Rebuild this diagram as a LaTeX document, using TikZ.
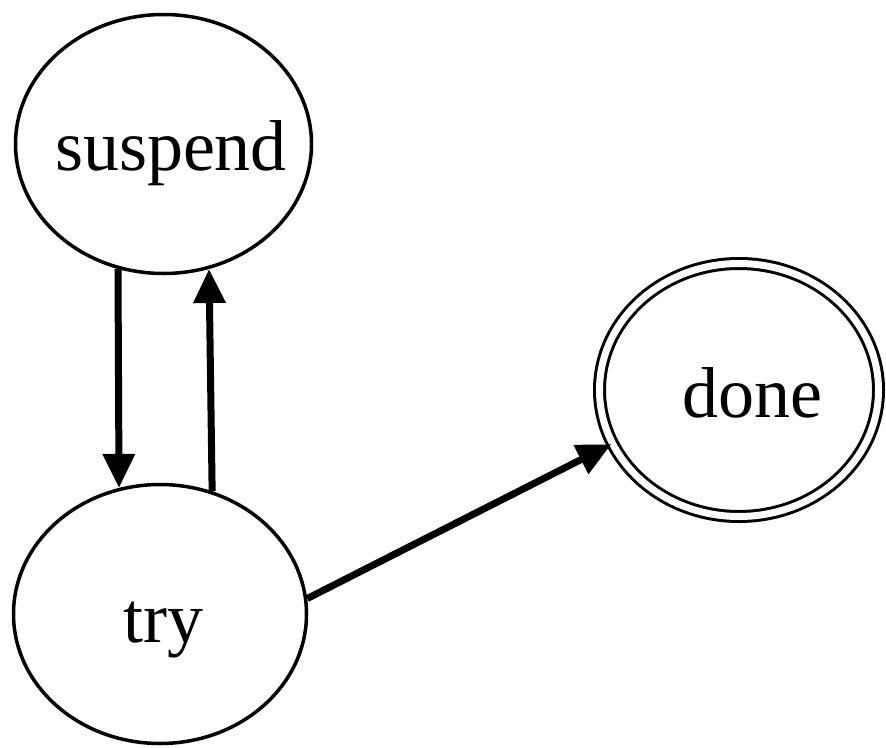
\documentclass[tikz,border=0pt]{standalone}
\usepackage{fontspec}
\setmainfont{Liberation Serif}
\usetikzlibrary{arrows.meta,shapes.geometric}
\begin{document}
\begin{tikzpicture}[x=1pt,y=-1pt,
  state/.style={draw, ellipse, line width=3.5pt, inner sep=0pt},
  accepting/.style={state, line width=3pt, double, double distance=7pt},
  lbl/.style={anchor=base, inner sep=0pt, font=\fontsize{72}{80}\selectfont},
  arr/.style={line width=7pt, -{Triangle[length=34pt,width=31pt]}}]
  \useasboundingbox (0,0) rectangle (886,747);
  % states
  \node[state, minimum width=296pt, minimum height=259pt] (suspend) at (163.5,144) {};
  \node[state, minimum width=293pt, minimum height=259pt] (try) at (160,614) {};
  \node[accepting, minimum width=279pt, minimum height=253pt] (done) at (739,390) {};
  % state names
  \node[lbl] (suspendname) at (171,170) {suspend};
  \node[lbl] (tryname) at (163.5,642) {try};
  \node[lbl] (donename) at (752,417) {done};
  % transitions
  \draw[arr] (suspend.250) -- (try.108.5);
  \draw[arr] (try.67.9) -- (suspend.290.5);
  \draw[arr] (try.6.8) -- (done.203);
\end{tikzpicture}
\end{document}
